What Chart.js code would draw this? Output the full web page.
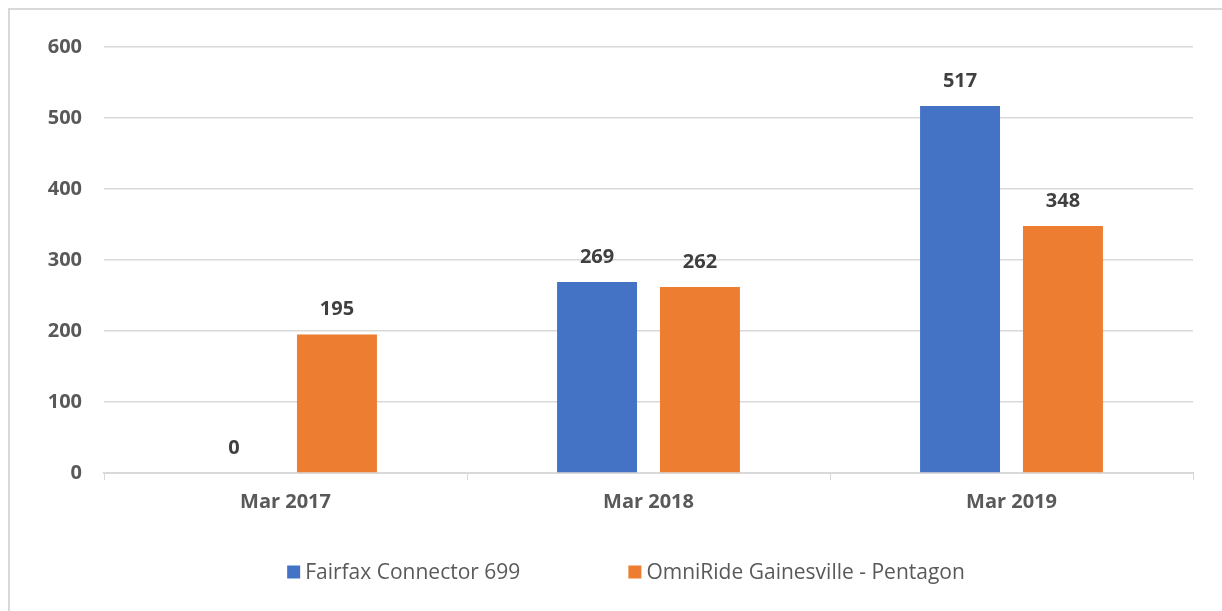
<!DOCTYPE html>
<html lang="en">
<head>
<meta name="viewport" content="width=device-width, initial-scale=1">
<script src="https://cdn.jsdelivr.net/npm/chart.js"></script>
<style>
    body { margin: 0; background: #fff; }
    .frame {
        position: absolute; left: 8px; top: 8px;
        width: 1240px; height: 640px;
        border: 2px solid #d9d9d9;
    }
    .chart-box { position: absolute; left: 0; top: 0; width: 1222px; height: 611px; }
</style>
</head>
<body>

<div class="frame"></div>
<div class="chart-box">
    <canvas id="ridersChart"></canvas>
</div>

<script>
    const months = ["Mar 2017", "Mar 2018", "Mar 2019"];
    const fairfax = [0, 269, 517];
    const omniride = [195, 262, 348];
    const seriesNames = ["Fairfax Connector 699", "OmniRide Gainesville - Pentagon"];

    // value labels above each bar
    const barValues = {
        id: 'barValues',
        afterDatasetsDraw(chart) {
            const ctx = chart.ctx;
            ctx.save();
            ctx.font = 'bold 20px "Open Sans"';
            ctx.fillStyle = '#404040';
            ctx.textAlign = 'center';
            ctx.textBaseline = 'middle';
            chart.data.datasets.forEach((ds, i) => {
                chart.getDatasetMeta(i).data.forEach((bar, j) => {
                    ctx.fillText(ds.data[j], bar.x, bar.y - 25);
                });
            });
            ctx.restore();
        }
    };

    // legend row under the axis, wide gap between items like the original
    const bottomLegend = {
        id: 'bottomLegend',
        afterDraw(chart) {
            const ctx = chart.ctx;
            const box = 13, gap = 5, spacing = 108, y = 572;
            ctx.save();
            ctx.font = '21px "Open Sans"';
            ctx.textBaseline = 'middle';
            const items = chart.data.datasets.map(ds => ({
                text: ds.label, color: ds.backgroundColor,
                w: ctx.measureText(ds.label).width
            }));
            let total = items.reduce((s, it) => s + box + gap + it.w, 0) + spacing * (items.length - 1);
            let x = 626 - total / 2;
            items.forEach(it => {
                ctx.fillStyle = it.color;
                ctx.fillRect(x, y - box / 2, box, box);
                ctx.fillStyle = '#595959';
                ctx.fillText(it.text, x + box + gap, y + 1);
                x += box + gap + it.w + spacing;
            });
            ctx.restore();
        }
    };

    var ctx = document.getElementById('ridersChart').getContext('2d');
    var ridersChart = new Chart(ctx, {
        type: 'bar',
        data: {
            labels: months,
            datasets: [{
                label: seriesNames[0],
                data: fairfax,
                backgroundColor: '#4472C4'
            }, {
                label: seriesNames[1],
                data: omniride,
                backgroundColor: '#ED7D31'
            }]
        },
        options: {
            responsive: true,
            maintainAspectRatio: false,
            animation: false,
            categoryPercentage: 0.567,
            barPercentage: 0.777,
            layout: { padding: { top: 47, right: 29, bottom: 88 } },
            scales: {
                x: {
                    grid: {
                        drawOnChartArea: false,
                        drawTicks: true,
                        tickLength: 7,
                        color: '#d9d9d9'
                    },
                    border: { color: '#d9d9d9', width: 2 },
                    ticks: {
                        padding: 10,
                        color: '#595959',
                        font: { family: '"Open Sans"', size: 20, weight: 'bold' }
                    },
                    afterFit: function(scale) { scale.height = 50; }
                },
                y: {
                    min: 0,
                    max: 600,
                    ticks: {
                        stepSize: 100,
                        padding: 22,
                        color: '#595959',
                        font: { family: '"Open Sans"', size: 20, weight: 'bold' }
                    },
                    grid: { color: '#d9d9d9', lineWidth: 1.5, drawTicks: false },
                    border: { display: false },
                    afterFit: function(scale) { scale.width = 104; }
                }
            },
            plugins: {
                legend: { display: false },
                tooltip: { enabled: false }
            }
        },
        plugins: [barValues, bottomLegend]
    });
</script>
</body>
</html>
